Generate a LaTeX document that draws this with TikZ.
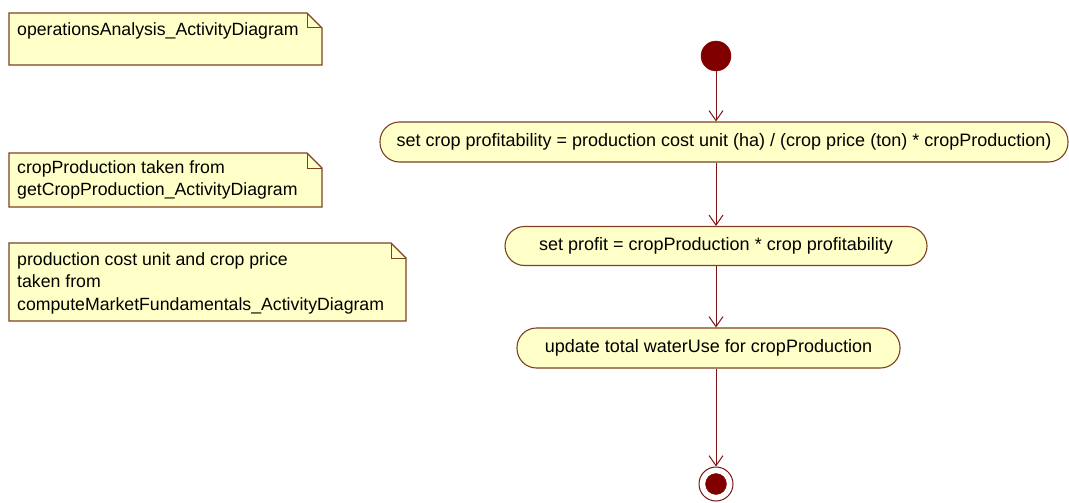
\documentclass[tikz,border=0pt]{standalone}
\usepackage{fontspec}
\setmainfont{Liberation Sans}
\usetikzlibrary{arrows.meta}
\definecolor{notefill}{RGB}{255,255,200}
\definecolor{noteline}{RGB}{125,65,35}
\definecolor{flowline}{RGB}{125,20,20}
\definecolor{dotfill}{RGB}{128,0,0}
\begin{document}
\begin{tikzpicture}[x=1pt,y=-1pt,
  action/.style={draw=noteline, fill=notefill, line width=1.1pt, rectangle,
    rounded corners=19.5pt, inner sep=0pt, font=\fontsize{18}{22}\selectfont},
  notebox/.style={draw=noteline, fill=notefill, line width=1.1pt},
  notetext/.style={anchor=north west, inner sep=0pt, align=left,
    font=\fontsize{17.7}{22.5}\selectfont},
  flow/.style={draw=flowline, line width=1pt, -{Straight Barb[length=10pt,width=14pt]}},
  startdot/.style={circle, fill=dotfill, draw=dotfill, minimum size=30pt, inner sep=0pt},
  endring/.style={circle, fill=white, draw=flowline, line width=1pt, minimum size=34pt, inner sep=0pt},
  enddot/.style={circle, fill=dotfill, draw=dotfill, minimum size=21pt, inner sep=0pt}]
\useasboundingbox (0,0) rectangle (1069,503);

% notes
\draw[notebox] (9,13) -- (307,13) -- (322,28) -- (322,65) -- (9,65) -- cycle;
\draw[noteline, line width=1pt] (307,13) -- (307,28) -- (322,28);
\node[notetext] (n1) at (17,22) {operationsAnalysis\_ActivityDiagram};

\draw[notebox] (9,153) -- (307,153) -- (322,168) -- (322,207) -- (9,207) -- cycle;
\draw[noteline, line width=1pt] (307,153) -- (307,168) -- (322,168);
\node[notetext] (n2) at (17,160) {cropProduction taken from\\getCropProduction\_ActivityDiagram};

\draw[notebox] (9,243) -- (391,243) -- (406,258) -- (406,321) -- (9,321) -- cycle;
\draw[noteline, line width=1pt] (391,243) -- (391,258) -- (406,258);
\node[notetext] (n3) at (17,252) {production cost unit and crop price\\taken from\\computeMarketFundamentals\_ActivityDiagram};

% flow
\node[startdot] (start) at (716,56) {};
\node[action, minimum width=688pt, minimum height=40pt] (a1) at (724,142)
  {set crop profitability = production cost unit (ha) / (crop price (ton) * cropProduction)};
\node[action, minimum width=422pt, minimum height=39pt] (a2) at (716,246)
  {set profit = cropProduction * crop profitability};
\node[action, minimum width=383pt, minimum height=40pt] (a3) at (708.5,348)
  {update total waterUse for cropProduction};
\node[endring] (end) at (716,484) {};
\node[enddot] (enddot) at (end.center) {};

\draw[flow] (start.south) -- (start.south |- a1.north);
\draw[flow] (a2.north |- a1.south) -- (a2.north);
\draw[flow] (a2.south) -- (a2.south |- a3.north);
\draw[flow] (end.north |- a3.south) -- (end.north);
\end{tikzpicture}
\end{document}
